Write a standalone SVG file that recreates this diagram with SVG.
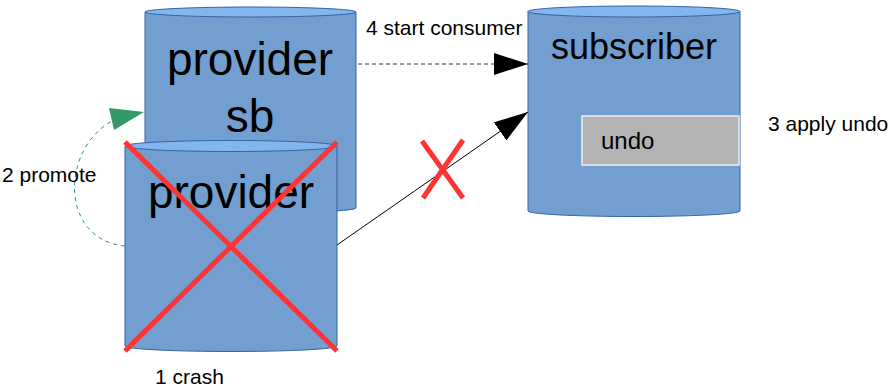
<svg xmlns="http://www.w3.org/2000/svg" width="894" height="390" viewBox="0 0 894 390">
<style>
.body{fill:#729fcf;stroke:#3465a4;stroke-width:1}
.top{fill:#83b5ee;stroke:#3465a4;stroke-width:1}
.big{font-family:"Liberation Sans",Arial,sans-serif;font-size:46px;fill:#000;text-anchor:middle}
.mid{font-family:"Liberation Sans",Arial,sans-serif;font-size:36px;fill:#000;text-anchor:middle}
.lbl{font-family:"Liberation Sans",Arial,sans-serif;font-size:21px;fill:#000}
.cross{stroke:#ff3333;stroke-width:5;fill:none}
</style>
<defs>
<marker id="ah" viewBox="0 0 10 10" refX="10" refY="5" markerWidth="34" markerHeight="22" markerUnits="userSpaceOnUse" orient="auto" preserveAspectRatio="none">
<path d="M0,0 L10,5 L0,10 Z" fill="#000"/>
</marker>
</defs>
<g id="provider-sb">
<path class="body" d="M145,12 L145,208 A105.5,5 0 0 0 356,208 L356,12 Z"/>
<ellipse class="top" cx="250.5" cy="12" rx="105.5" ry="5"/>
<text class="big" x="250" y="75">provider</text>
<text class="big" x="250" y="132">sb</text>
</g>
<g id="subscriber">
<path class="body" d="M528,11.5 L528,211 A106,5.5 0 0 0 740,211 L740,11.5 Z"/>
<ellipse class="top" cx="634" cy="11.5" rx="106" ry="5.5"/>
<text class="mid" x="634" y="59">subscriber</text>
</g>
<g id="undo">
<rect x="582" y="116" width="157" height="49" fill="#b3b3b3" stroke="#eeeeee" stroke-width="1.5"/>
<text class="lbl" x="601" y="149" style="font-size:24px">undo</text>
</g>
<g id="connectors">
<path d="M358,64 L528,64" stroke="#333" stroke-width="1" stroke-dasharray="4,3" fill="none" marker-end="url(#ah)"/>
<path d="M337,245 L528,112" stroke="#000" stroke-width="1" fill="none" marker-end="url(#ah)"/>
<path d="M125,246 C60,240 60,150 112,121" stroke="#339966" stroke-width="1" stroke-dasharray="4,4" fill="none"/>
<polygon points="109,108 144,112 114,130" fill="#339966"/>
</g>
<g id="provider">
<path class="body" d="M125,146 L125,346 A106,5.5 0 0 0 337,346 L337,146 Z"/>
<ellipse class="top" cx="231" cy="146" rx="106" ry="5.5"/>
<text class="big" x="231" y="208">provider</text>
</g>
<g id="crosses">
<path class="cross" d="M125,142 L337,351 M337,142 L125,351"/>
<path class="cross" d="M422,141 L463,198 M463,140 L423,198"/>
</g>
<g id="labels">
<text class="lbl" x="366" y="35">4 start consumer</text>
<text class="lbl" x="768" y="131">3 apply undo</text>
<text class="lbl" x="2" y="182">2 promote</text>
<text class="lbl" x="155" y="384">1 crash</text>
</g>
</svg>
